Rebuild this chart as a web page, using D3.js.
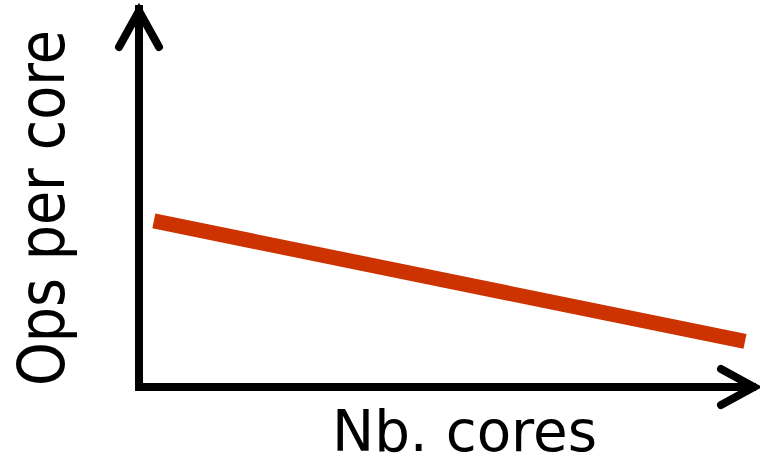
<!DOCTYPE html>
<html>
<head>
<meta charset="utf-8">
<script src="https://cdn.jsdelivr.net/npm/d3@7"></script>
<style>
  html, body { margin: 0; padding: 0; background: #fff; }
  svg { display: block; }
</style>
</head>
<body>
<svg id="chart" width="760" height="458"></svg>
<script>
// Data (schematic: ops per core decreases as number of cores grows)
const cores = [2.4, 97.9];
const opsPerCore = [43.7, 12.0];
const xLabel = "Nb. cores";
const yLabel = "Ops per core";

const svg = d3.select("#chart");
const x = d3.scaleLinear().domain([0, 100]).range([139, 758]);
const y = d3.scaleLinear().domain([0, 100]).range([387, 7]);

// Axes with arrowheads
const axisStroke = 8;
svg.append("line")
  .attr("x1", x(0)).attr("y1", y(0)).attr("x2", x(0)).attr("y2", y(100) + 2)
  .attr("stroke", "#000").attr("stroke-width", axisStroke).attr("stroke-linecap", "square");
svg.append("line")
  .attr("x1", x(0)).attr("y1", y(0)).attr("x2", x(100) - 2).attr("y2", y(0))
  .attr("stroke", "#000").attr("stroke-width", axisStroke).attr("stroke-linecap", "butt");

svg.append("path")
  .attr("d", `M${x(0) - 20},${y(100) + 40} L${x(0)},${y(100) + 4} L${x(0) + 20},${y(100) + 40}`)
  .attr("fill", "none").attr("stroke", "#000").attr("stroke-width", axisStroke)
  .attr("stroke-linecap", "round").attr("stroke-linejoin", "miter");
svg.append("path")
  .attr("d", `M${x(100) - 37},${y(0) - 18} L${x(100) - 4},${y(0)} L${x(100) - 37},${y(0) + 18}`)
  .attr("fill", "none").attr("stroke", "#000").attr("stroke-width", axisStroke)
  .attr("stroke-linecap", "round").attr("stroke-linejoin", "miter");

// Data line
const line = d3.line().x(d => x(d[0])).y(d => y(d[1]));
svg.append("path")
  .datum(d3.zip(cores, opsPerCore))
  .attr("d", line)
  .attr("fill", "none")
  .attr("stroke", "#cc3300")
  .attr("stroke-width", 15)
  .attr("stroke-linecap", "butt");

// Labels
svg.append("text")
  .attr("transform", "translate(464.5,451) scale(0.95,1)")
  .attr("text-anchor", "middle")
  .attr("font-family", "DejaVu Sans")
  .attr("font-size", 57)
  .attr("textLength", 265 / 0.95)
  .attr("lengthAdjust", "spacingAndGlyphs")
  .text(xLabel);

svg.append("text")
  .attr("transform", "translate(64,208) rotate(-90) scale(0.87,1)")
  .attr("text-anchor", "middle")
  .attr("font-family", "DejaVu Sans")
  .attr("font-size", 64)
  .attr("textLength", 356 / 0.87)
  .attr("lengthAdjust", "spacingAndGlyphs")
  .text(yLabel);
</script>
</body>
</html>
